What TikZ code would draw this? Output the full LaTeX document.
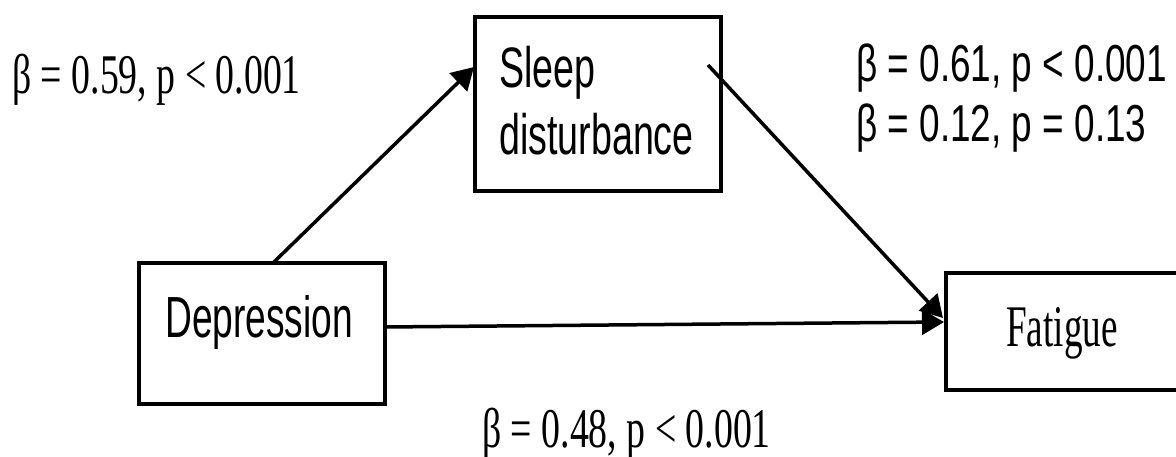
\documentclass[tikz,border=0pt]{standalone}
\usepackage{fontspec}
\usepackage{graphicx}
\setmainfont{Liberation Serif}
\newfontfamily\arialf{Liberation Sans}
\usetikzlibrary{arrows.meta}
\newcommand{\serlab}[1]{\scalebox{0.675}[1]{\fontsize{56}{60}\selectfont #1}}
\newcommand{\sanslab}[1]{\scalebox{0.71}[1]{\arialf\fontsize{52}{60}\selectfont #1}}
\begin{document}
\begin{tikzpicture}[x=1pt,y=-1pt,
  box/.style={draw=black,line width=4pt,rectangle,inner sep=0pt,fill=white},
  txt/.style={anchor=base west,inner sep=0pt},
  conn/.style={line width=3.5pt,-{Triangle[length=22pt,width=25pt]}}]
\useasboundingbox (0,0) rectangle (1176,457);
% boxes
\node[box,minimum width=246pt,minimum height=174pt] (sleep) at (598,104) {};
\node[box,minimum width=246pt,minimum height=141pt] (dep) at (262,333.5) {};
\node[box,minimum width=234pt,minimum height=117pt] (fat) at (1063,331.5) {};
% box texts
\node[txt] (sleeptxt1) at (499,88) {\scalebox{0.66}[1]{\arialf\fontsize{57}{60}\selectfont Sleep}};
\node[txt] (sleeptxt2) at (499,155) {\scalebox{0.66}[1]{\arialf\fontsize{57}{60}\selectfont disturbance}};
\node[txt] (deptxt) at (165,337) {\scalebox{0.64}[1]{\arialf\fontsize{58}{60}\selectfont Depression}};
\node[txt] (fattxt) at (1006,346) {\scalebox{0.63}[1]{\fontsize{59}{60}\selectfont Fatigue}};
% connector end points
\coordinate (depTop) at (273,263);
\coordinate (sleepIn) at (474,67);
\coordinate (sleepOut) at (708,65);
\coordinate (fatIn1) at (943,318);
\coordinate (depRight) at (385,327);
\coordinate (fatIn2) at (944,322);
% connectors
\draw[conn] (depTop) -- (sleepIn);
\draw[conn] (sleepOut) -- (fatIn1);
\draw[conn] (depRight) -- (fatIn2);
% labels
\node[txt] (l1) at (12,94) {\serlab{β = 0.59, p < 0.001}};
\node[txt] (l2) at (856,82) {\sanslab{β = 0.61, p < 0.001}};
\node[txt] (l3) at (856,142) {\sanslab{β = 0.12, p = 0.13}};
\node[txt] (l4) at (482,447) {\serlab{β = 0.48, p < 0.001}};
\end{tikzpicture}
\end{document}
